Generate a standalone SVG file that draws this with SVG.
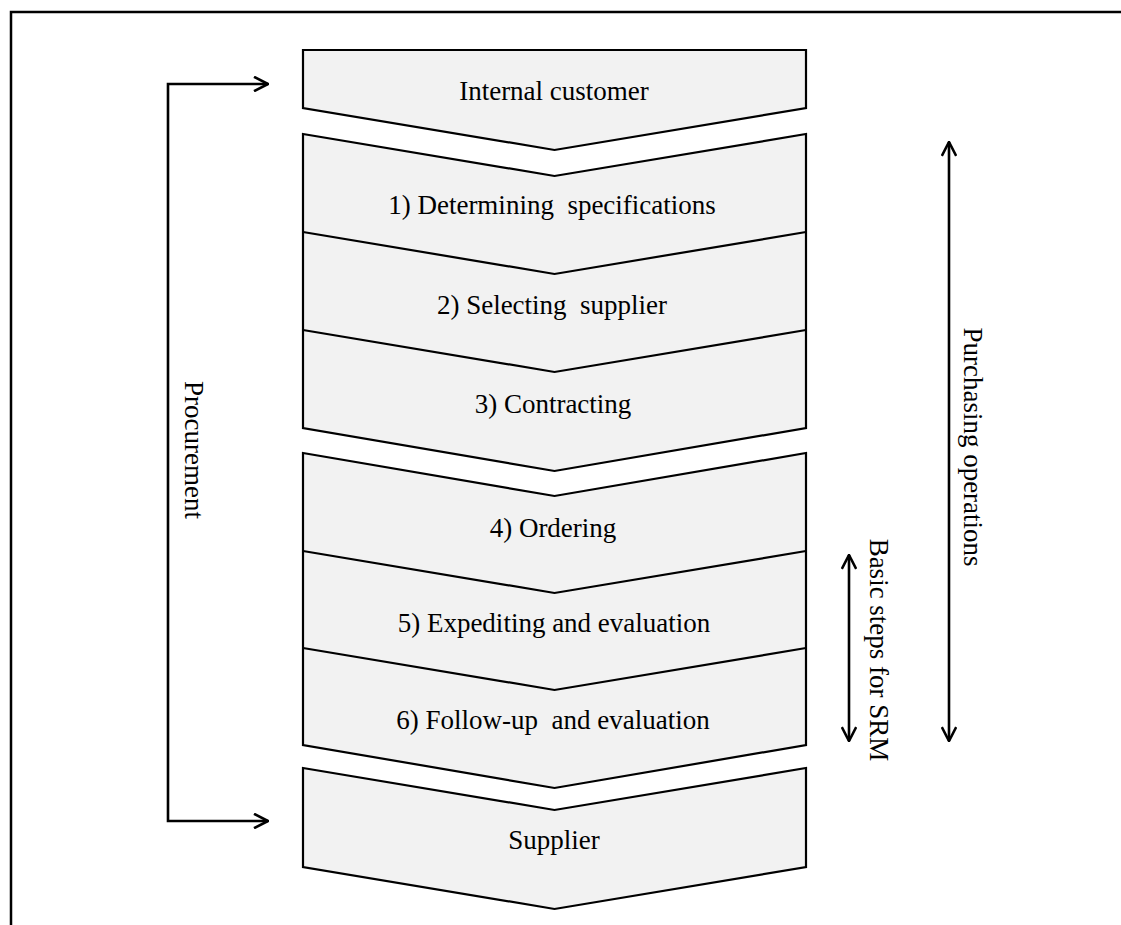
<svg xmlns="http://www.w3.org/2000/svg" width="1121" height="925" viewBox="0 0 1121 925">
<style>
.bg{fill:#ffffff}
.frame{fill:none;stroke:#000;stroke-width:2.5}
.chev{fill:#f2f2f2;stroke:#000;stroke-width:2.2;stroke-linejoin:miter}
.sep{fill:none;stroke:#000;stroke-width:2.2}
.lbl{font-family:"Liberation Serif","Times New Roman",serif;font-size:27px;fill:#000;text-anchor:middle}
.conn{fill:none;stroke:#000;stroke-width:2.6}
</style>
<defs>
<marker id="arr" viewBox="0 0 16 16" refX="15" refY="8" markerWidth="16" markerHeight="16" markerUnits="userSpaceOnUse" orient="auto-start-reverse">
<path d="M1,0.8 L15,8 L1,15.2" fill="none" stroke="#000" stroke-width="2.6"/>
</marker>
</defs>
<rect class="bg" x="0" y="0" width="1121" height="925"/>
<path class="frame" d="M11,925 L11,12 L1121,12"/>

<g id="internal-customer">
<path class="chev" d="M303,50 L806,50 L806,108 L554.5,150 L303,108 Z"/>
<text class="lbl" x="554" y="100">Internal customer</text>
</g>

<g id="block-1-3">
<path class="chev" d="M303,134 L554.5,176 L806,134 L806,428 L554.5,471 L303,428 Z"/>
<path class="sep" d="M303,232 L554.5,274 L806,232"/>
<path class="sep" d="M303,330 L554.5,372 L806,330"/>
</g>
<g id="step1"><text class="lbl" x="552" y="214" xml:space="preserve">1) Determining  specifications</text></g>
<g id="step2"><text class="lbl" x="552" y="314" xml:space="preserve">2) Selecting  supplier</text></g>
<g id="step3"><text class="lbl" x="553" y="413">3) Contracting</text></g>

<g id="block-4-6">
<path class="chev" d="M303,453 L554.5,496 L806,453 L806,745 L554.5,788 L303,745 Z"/>
<path class="sep" d="M303,551 L554.5,593 L806,551"/>
<path class="sep" d="M303,648 L554.5,690 L806,648"/>
</g>
<g id="step4"><text class="lbl" x="553" y="537">4) Ordering</text></g>
<g id="step5"><text class="lbl" x="554" y="632">5) Expediting and evaluation</text></g>
<g id="step6"><text class="lbl" x="553" y="729" xml:space="preserve">6) Follow-up  and evaluation</text></g>

<g id="supplier">
<path class="chev" d="M303,768 L554.5,810 L806,768 L806,867 L554.5,909 L303,867 Z"/>
<text class="lbl" x="554" y="849">Supplier</text>
</g>

<g id="connectors">
<path class="conn" d="M268,84 L168,84 L168,821 L268,821" marker-start="url(#arr)" marker-end="url(#arr)"/>
<path class="conn" d="M949,142 L949,741" marker-start="url(#arr)" marker-end="url(#arr)"/>
<path class="conn" d="M849,555 L849,741" marker-start="url(#arr)" marker-end="url(#arr)"/>
</g>

<g id="label-procurement"><text class="lbl" transform="translate(185,450) rotate(90)" x="0" y="0">Procurement</text></g>
<g id="label-purchasing"><text class="lbl" transform="translate(964,447) rotate(90)" x="0" y="0">Purchasing operations</text></g>
<g id="label-srm"><text class="lbl" transform="translate(870,650) rotate(90)" x="0" y="0">Basic steps for SRM</text></g>
</svg>
